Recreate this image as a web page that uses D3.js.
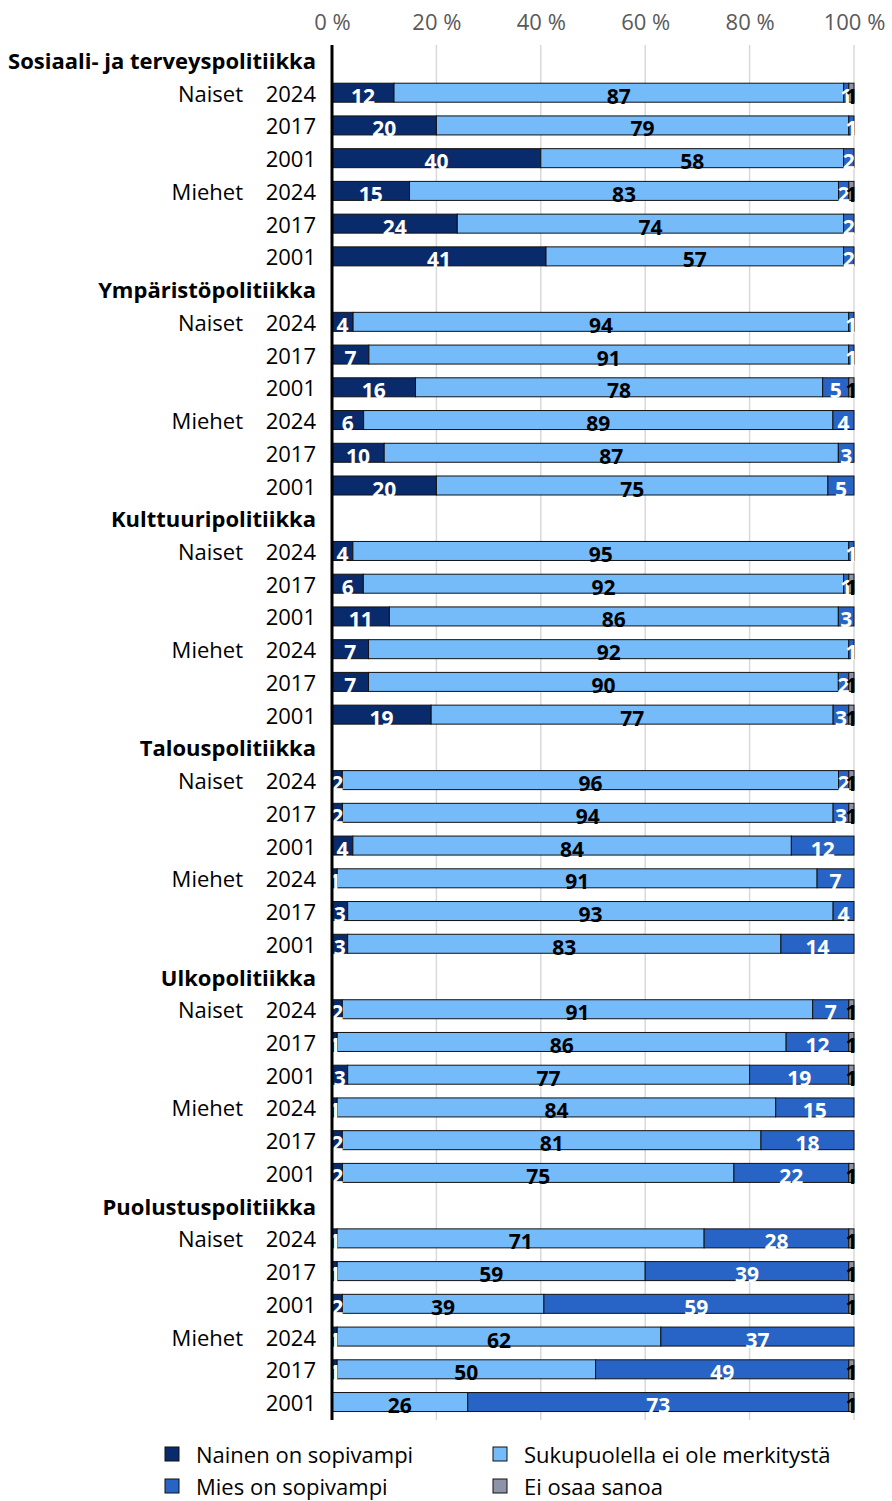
<!DOCTYPE html>
<html lang="fi">
<head>
<meta charset="UTF-8">
<title>Sukupuoli ja politiikan alat</title>
<script src="https://d3js.org/d3.v7.min.js"></script>
<style>
    body { margin: 0; background: #fff; }
    svg text { font-family: "Open Sans", "Noto Sans", sans-serif; }
    .tick text { fill: #595959; font-size: 22px; }
</style>
</head>
<body>
<svg id="chart" width="892" height="1501"></svg>
<script>
// categories
const groups = ["Sosiaali- ja terveyspolitiikka", "Ympäristöpolitiikka", "Kulttuuripolitiikka",
    "Talouspolitiikka", "Ulkopolitiikka", "Puolustuspolitiikka"];
const genders = ["Naiset", "Miehet"];
const years = ["2024", "2017", "2001"];
const seriesNames = ["Nainen on sopivampi", "Sukupuolella ei ole merkitystä", "Mies on sopivampi", "Ei osaa sanoa"];
const tickValues = [0, 20, 40, 60, 80, 100];

// values per bar row, group by group: Naiset 2024, 2017, 2001, Miehet 2024, 2017, 2001
const nainen = [12, 20, 40, 15, 24, 41,
    4, 7, 16, 6, 10, 20,
    4, 6, 11, 7, 7, 19,
    2, 2, 4, 1, 3, 3,
    2, 1, 3, 1, 2, 2,
    1, 1, 2, 1, 1, 0];
const neutraali = [87, 79, 58, 83, 74, 57,
    94, 91, 78, 89, 87, 75,
    95, 92, 86, 92, 90, 77,
    96, 94, 84, 91, 93, 83,
    91, 86, 77, 84, 81, 75,
    71, 59, 39, 62, 50, 26];
const mies = [1, 1, 2, 2, 2, 2,
    1, 1, 5, 4, 3, 5,
    1, 1, 3, 1, 2, 3,
    2, 3, 12, 7, 4, 14,
    7, 12, 19, 15, 18, 22,
    28, 39, 59, 37, 49, 73];
const eos = [1, 0, 0, 1, 0, 0,
    0, 0, 1, 0, 0, 0,
    0, 1, 0, 0, 1, 1,
    1, 1, 0, 0, 0, 0,
    1, 1, 1, 0, 0, 1,
    1, 1, 1, 0, 1, 1];

const colors = ["#0a2b6b", "#75bbfa", "#2864c6", "#8f93a8"];
const labelColors = ["#fff", "#000", "#fff", "#000"];
const keys = ["nainen", "neutraali", "mies", "eos"];

// build the row list: one header row per group, then 6 bar rows
let rows = [];
let bars = [];
groups.forEach(function (g, gi) {
    rows.push({type: "header", text: g});
    for (let k = 0; k < 6; k++) {
        let i = gi * 6 + k;
        let row = {
            type: "bar",
            gender: k % 3 === 0 ? genders[Math.floor(k / 3)] : "",
            year: years[k % 3],
            nainen: nainen[i], neutraali: neutraali[i], mies: mies[i], eos: eos[i]
        };
        row.total = row.nainen + row.neutraali + row.mies + row.eos;
        row.index = rows.length;
        rows.push(row);
        bars.push(row);
    }
});

let svg = d3.select("#chart");

let x = d3.scaleLinear().domain([0, 100]).range([332, 854]);
let y = d3.scaleBand().domain(d3.range(rows.length)).range([43.6, 1418.4]).padding(0);
let color = d3.scaleOrdinal().domain(keys).range(colors);
let labelColor = d3.scaleOrdinal().domain(keys).range(labelColors);

// gridlines
svg.append("g")
    .selectAll("line")
    .data(tickValues.slice(1))
    .join("line")
    .attr("x1", d => x(d)).attr("x2", d => x(d))
    .attr("y1", 45).attr("y2", 1420)
    .attr("stroke", "#d9d9d9")
    .attr("stroke-width", 1.5);

// top axis labels
let axis = svg.append("g")
    .attr("transform", "translate(0,33)")
    .call(d3.axisTop(x).tickValues(tickValues).tickFormat(d => d + " %").tickSize(0).tickPadding(3));
axis.select(".domain").remove();

// stacked bars (scaled to each row's total)
let stack = d3.stack().keys(keys)
    .value((d, key) => d[key] * 100 / d.total);
let series = stack(bars);

let barH = 19;
let barLayer = svg.append("g");
series.forEach(function (s) {
    let key = s.key;
    barLayer.append("g")
        .selectAll("rect")
        .data(s.filter(d => d.data[key] > 0))
        .join("rect")
        .attr("x", d => x(d[0]))
        .attr("width", d => x(d[1]) - x(d[0]))
        .attr("y", d => y(d.data.index) + y.bandwidth() / 2 - barH / 2)
        .attr("height", barH)
        .attr("fill", color(key))
        .attr("stroke", "#111")
        .attr("stroke-width", 1);
});

// value labels
series.forEach(function (s) {
    let key = s.key;
    barLayer.append("g")
        .selectAll("text")
        .data(s.filter(d => d.data[key] > 0))
        .join("text")
        .attr("x", d => (x(d[0]) + x(d[1])) / 2)
        .attr("y", d => y(d.data.index) + y.bandwidth() / 2 + 3)
        .attr("text-anchor", "middle")
        .attr("dominant-baseline", "central")
        .attr("font-size", 21)
        .attr("font-weight", "bold")
        .attr("fill", labelColor(key))
        .text(d => d.data[key]);
});

// left axis line
svg.append("line")
    .attr("x1", x(0)).attr("x2", x(0))
    .attr("y1", 45).attr("y2", 1420)
    .attr("stroke", "#000")
    .attr("stroke-width", 3);

// row labels
let labels = svg.append("g");
labels.selectAll("text.header")
    .data(rows.map((r, i) => ({r: r, i: i})).filter(d => d.r.type === "header"))
    .join("text")
    .attr("class", "header")
    .attr("x", 316)
    .attr("y", d => y(d.i) + y.bandwidth() / 2)
    .attr("text-anchor", "end")
    .attr("dominant-baseline", "central")
    .attr("font-size", 22)
    .attr("font-weight", "bold")
    .attr("fill", "#000")
    .text(d => d.r.text);

labels.selectAll("text.year")
    .data(bars)
    .join("text")
    .attr("class", "year")
    .attr("x", 316)
    .attr("y", d => y(d.index) + y.bandwidth() / 2)
    .attr("text-anchor", "end")
    .attr("dominant-baseline", "central")
    .attr("font-size", 22)
    .attr("fill", "#000")
    .text(d => d.year);

labels.selectAll("text.gender")
    .data(bars.filter(d => d.gender !== ""))
    .join("text")
    .attr("class", "gender")
    .attr("x", 243)
    .attr("y", d => y(d.index) + y.bandwidth() / 2)
    .attr("text-anchor", "end")
    .attr("dominant-baseline", "central")
    .attr("font-size", 22)
    .attr("fill", "#000")
    .text(d => d.gender);

// legend: Nainen, Sukupuolella / Mies, Ei osaa sanoa
let legendPos = [[165, 1454], [493, 1454], [165, 1486], [493, 1486]];
let legendOrder = [0, 1, 2, 3];
let legend = svg.append("g")
    .selectAll("g")
    .data(legendOrder)
    .join("g")
    .attr("transform", (d, i) => "translate(" + legendPos[i][0] + "," + legendPos[i][1] + ")");
legend.append("rect")
    .attr("x", 0).attr("y", -7)
    .attr("width", 14).attr("height", 14)
    .attr("fill", d => colors[d])
    .attr("stroke", "#111")
    .attr("stroke-width", 1);
legend.append("text")
    .attr("x", 31)
    .attr("y", 0)
    .attr("dominant-baseline", "central")
    .attr("font-size", 22)
    .attr("fill", "#000")
    .text(d => seriesNames[d]);
</script>
</body>
</html>
